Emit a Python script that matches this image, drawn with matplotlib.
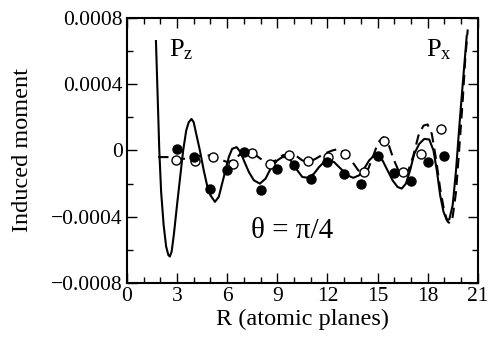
import numpy as np
import matplotlib
matplotlib.use('Agg')
import matplotlib.pyplot as plt
from matplotlib.ticker import MultipleLocator

plt.rcParams['font.family'] = ['Liberation Serif', 'DejaVu Serif']
plt.rcParams['mathtext.fontset'] = 'custom'
plt.rcParams['mathtext.rm'] = 'Liberation Serif'
plt.rcParams['mathtext.it'] = 'Liberation Serif:italic'

# solid curve
r_solid = [1.74, 1.85, 1.94, 2.05, 2.2, 2.35, 2.48, 2.57, 2.68, 2.82, 3.0, 3.2, 3.37,
           3.55, 3.7, 3.87, 4.0, 4.15, 4.37, 4.6, 4.8, 5.0, 5.27, 5.5, 5.7, 5.9, 6.1,
           6.3, 6.57, 6.8, 7.0, 7.3, 7.6, 7.96, 8.3, 8.6, 9.0, 9.3, 9.56, 9.9, 10.2,
           10.5, 10.86, 11.2, 11.5, 11.8, 12.1, 12.4, 12.8, 13.2, 13.55, 13.9, 14.2,
           14.5, 14.8, 15.05, 15.3, 15.6, 15.9, 16.2, 16.45, 16.7, 16.95, 17.2, 17.5,
           17.8, 18.1, 18.35, 18.55, 18.75, 18.95, 19.15, 19.3, 19.5, 19.7, 19.9,
           20.1, 20.34]
m_solid = [0.00066, 0.00030, 0.0, -0.00025, -0.00045, -0.00058, -0.00063, -0.00064,
           -0.00061, -0.00050, -0.00033, -0.00015, 0.0, 0.00012, 0.00017, 0.00019,
           0.00017, 0.00010, 0.0, -0.00012, -0.00021, -0.00027, -0.00031, -0.00028,
           -0.00020, -0.00012, -0.00004, 0.00001, 0.00002, -0.00001, -0.00006,
           -0.00013, -0.00018, -0.00020, -0.00017, -0.00011, -0.00006, -0.00004,
           -0.00004, -0.00007, -0.00012, -0.00016, -0.000165, -0.00014, -0.00010,
           -0.00007, -0.00006, -0.00007, -0.00011, -0.00015, -0.000165, -0.00015,
           -0.00011, -0.00006, -0.00003, -0.00003, -0.00006, -0.00012, -0.00018,
           -0.00022, -0.00023, -0.00020, -0.00012, -0.00002, 0.00004, 0.00007,
           0.000066, 0.0, -0.00012, -0.00027, -0.00037, -0.00042, -0.000415,
           -0.00033, -0.00012, 0.00015, 0.00040, 0.00069]

# dashed curve
r_dash = [1.87, 2.5, 3.0, 3.5, 4.0, 4.5, 5.0, 5.5, 6.0, 6.4, 6.8, 7.2, 7.6, 8.0, 8.5,
          8.9, 9.3, 9.7, 10.1, 10.5, 10.9, 11.3, 11.8, 12.3, 12.7, 13.1, 13.5, 13.85,
          14.15, 14.45, 14.75, 15.05, 15.35, 15.65, 15.95, 16.25, 16.55, 16.85, 17.15,
          17.45, 17.75, 18.0, 18.25, 18.5, 18.75, 19.0, 19.2, 19.35, 19.5, 19.7, 19.9,
          20.1, 20.25, 20.4]
m_dash = [-0.00004, -0.00004, -0.00005, -0.00005, -0.00004, -0.00003, -0.00003,
          -0.00005, -0.00007, -0.00006, -0.00002, -0.00001, -0.00002, -0.00005,
          -0.00008, -0.00006, -0.00003, -0.00002, -0.00003, -0.00006, -0.00007,
          -0.00005, -0.00002, 0.0, 0.00001, -0.00002, -0.00007, -0.00012, -0.000135,
          -0.00011, -0.00003, 0.00005, 0.00008, 0.00004, -0.00005, -0.00012,
          -0.000145, -0.00012, -0.00003, 0.00009, 0.00015, 0.000157, 0.00010,
          -0.00005, -0.00023, -0.00037, -0.00043, -0.00044, -0.00040, -0.00025,
          0.00002, 0.0003, 0.00055, 0.00073]

# filled circles
r_full = [3, 4, 5, 6, 7, 8, 9, 10, 11, 12, 13, 14, 15, 16, 17, 18, 19]
m_full = [0.000006, -0.000038, -0.000235, -0.000115, -0.00001, -0.00024, -0.00011,
          -0.00009, -0.000175, -0.00007, -0.00014, -0.000205, -0.000035, -0.000135,
          -0.000185, -0.00007, -0.000032]

# open circles
r_open = [2.92, 4.07, 5.17, 6.33, 7.46, 8.56, 9.72, 10.86, 12.05, 13.05, 14.22, 15.37,
          16.5, 17.6, 18.78]
m_open = [-0.00006, -0.000064, -0.000038, -0.00008, -0.000018, -0.000084, -0.000028,
          -0.000064, -0.00004, -0.000024, -0.000132, 0.00006, -0.00013, -0.000024,
          0.000128]

yticks = [-0.0008, -0.0004, 0, 0.0004, 0.0008]
ytick_labels = ['\u22120.0008', '\u22120.0004', '0', '0.0004', '0.0008']

fig = plt.figure(figsize=(4.88, 3.37), dpi=100)
ax = fig.add_axes([0.260, 0.160, 0.719, 0.787])

ax.plot(r_dash, m_dash, color='black', lw=1.5, ls=(0, (5, 3)))
ax.plot(r_solid, m_solid, color='black', lw=1.5)
ax.plot(r_open, m_open, 'o', mfc='white', mec='black', mew=1.0, ms=6.5)
ax.plot(r_full, m_full, 'o', color='black', ms=6.5)

ax.set_xlim(0, 21)
ax.set_ylim(-0.0008, 0.0008)
ax.xaxis.set_major_locator(MultipleLocator(3))
ax.xaxis.set_minor_locator(MultipleLocator(1))
ax.set_yticks(yticks)
ax.set_yticklabels(ytick_labels)
ax.yaxis.set_minor_locator(MultipleLocator(0.0002))
ax.tick_params(which='both', direction='in', top=True, right=True, labelsize=15.5)
ax.tick_params(which='major', length=7, width=1.0, pad=3)
ax.tick_params(which='minor', length=4, width=1.0)
for s in ax.spines.values():
    s.set_linewidth(1.5)

ax.set_xlabel('R (atomic planes)', fontsize=17.5, labelpad=2)
ax.set_ylabel('Induced moment', fontsize=17.5)
ax.yaxis.set_label_coords(-0.268, 0.5)

ax.text(2.55, 0.00057, r'P$_\mathrm{z}$', fontsize=19)
ax.text(17.9, 0.00057, r'P$_\mathrm{x}$', fontsize=19)
ax.text(7.4, -0.00053, '\u03b8 = \u03c0/4', fontsize=21)

fig.savefig('out.png', dpi=100)
